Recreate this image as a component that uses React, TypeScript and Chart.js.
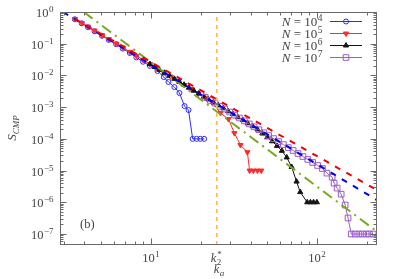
import React, { useEffect, useRef } from 'react';
import { Chart, registerables } from 'chart.js';

Chart.register(...registerables);

// ---------- axis ranges ----------
const X_MIN = 2.85;
const X_MAX = 230;
const Y_MIN = 4.5e-8;
const Y_MAX = 1;
const K_STAR = 25;

// ---------- data ----------
const n4K = [3.5, 3.85, 4.2, 4.6, 5.1, 5.6, 6.2, 6.8, 7.5, 8.2, 9.0, 9.9, 11.0, 12.0, 12.8, 13.9, 14.9, 16.0, 16.9, 17.9, 18.9, 19.9, 21.0];
const n4S = [0.59, 0.44, 0.33, 0.248, 0.178, 0.132, 0.096, 0.070, 0.051, 0.037, 0.027, 0.020, 0.0138, 0.0089, 0.0062, 0.0043, 0.0028, 0.00108, 0.00081, 1e-4, 1e-4, 1e-4, 1e-4];

const n5K = [3.5, 3.85, 4.2, 4.6, 5.1, 5.6, 6.2, 6.8, 7.5, 8.2, 9.0, 9.9, 10.9, 12.0, 13.2, 14.5, 16.0, 17.6, 19.4, 21.3, 23.4, 26.3, 29.4, 31.9, 34.7, 38.2, 39.4, 41.5, 43.9, 46.3];
const n5S = [0.60, 0.45, 0.345, 0.258, 0.186, 0.139, 0.101, 0.076, 0.0555, 0.0415, 0.031, 0.0229, 0.0169, 0.0124, 0.0092, 0.0068, 0.0050, 0.0037, 0.0027, 0.00198, 0.00145, 0.00065, 0.00042, 0.000152, 6.4e-5, 3.8e-5, 1e-5, 1e-5, 1e-5, 1e-5];

const n6K = [9.9, 10.6, 11.3, 12.1, 13.0, 13.9, 14.9, 15.9, 17.0, 18.2, 19.5, 20.9, 22.3, 23.9, 25.6, 27.4, 29.3, 31.3, 33.5, 35.9, 38.4, 41.1, 44.0, 47.0, 50.3, 53.8, 57.6, 61.6, 65.9, 70.5, 75.5, 79.4, 87.5, 91.5, 95.5, 100];
const n6S = [0.0228, 0.0184, 0.0150, 0.0121, 0.0097, 0.0078, 0.0063, 0.0051, 0.0041, 0.0033, 0.00268, 0.00215, 0.00175, 0.00141, 0.00114, 0.00092, 0.00074, 0.0006, 0.00048, 0.00039, 0.00031, 0.00025, 0.000198, 0.000148, 0.000112, 8.4e-5, 6.0e-5, 4.2e-5, 2.6e-5, 1.3e-5, 4.5e-6, 2.1e-6, 1e-6, 1e-6, 1e-6, 1e-6];

const n7K = [21.3, 22.8, 24.4, 26.1, 27.9, 29.9, 32.0, 34.2, 36.6, 39.2, 41.9, 44.8, 48.0, 51.3, 54.9, 58.8, 62.9, 67.3, 72.0, 77.0, 82.4, 88.2, 94.4, 101, 108, 115, 123.6, 127, 132.4, 140, 148, 154, 161, 170, 179, 188, 198, 207, 218];
const n7S = [0.00205, 0.00163, 0.00133, 0.00107, 0.00087, 0.0007, 0.00056, 0.000455, 0.000368, 0.000296, 0.00024, 0.000194, 0.000156, 0.000127, 0.000102, 8.2e-5, 6.6e-5, 5.3e-5, 4.3e-5, 3.45e-5, 2.78e-5, 2.24e-5, 1.8e-5, 1.45e-5, 1.16e-5, 8.3e-6, 6.2e-6, 4.0e-6, 2.8e-6, 1.8e-6, 8.2e-7, 3.2e-7, 1e-7, 1e-7, 1e-7, 1e-7, 1e-7, 1e-7, 1e-7];

// reference power-law lines (end points)
const redRefK = [3.5, 230];
const redRefS = [0.6, 2.43e-6];
const blueRefK = [2.97, 230];
const blueRefS = [1, 1.17e-6];
const greenRefK = [3.96, 224];
const greenRefS = [1, 1.33e-7];

// tick labels
const yTickExps = ['0', '−1', '−2', '−3', '−4', '−5', '−6', '−7'];
const yTickVals = [1, 1e-1, 1e-2, 1e-3, 1e-4, 1e-5, 1e-6, 1e-7];
const xTickExps = ['1', '2'];
const xTickVals = [10, 100];
const legendExps = ['4', '5', '6', '7'];

// ---------- styles ----------
const BLUE = '#2b2bff';
const RED = '#ff2a2a';
const BLACK = '#151515';
const PURPLE = '#9b5cc4';
const RED_DASH = '#ee0000';
const BLUE_DASH = '#0000ee';
const GREEN = '#77aa22';
const ORANGE = '#ffbb4d';
const TEXT = '#444444';
const FRAME = '#6a6a6a';
const SERIF = '"Liberation Serif", "DejaVu Serif", serif';

const pts = (ks: number[], ss: number[]) => ks.map((k, i) => ({ x: k, y: ss[i] }));

function drawMarker(ctx: CanvasRenderingContext2D, style: string, x: number, y: number, color: string) {
  ctx.save();
  ctx.lineWidth = 1;
  ctx.strokeStyle = color;
  ctx.fillStyle = color;
  ctx.beginPath();
  if (style === 'circle') {
    ctx.arc(x, y, 2.5, 0, Math.PI * 2);
    ctx.stroke();
  } else if (style === 'down') {
    ctx.moveTo(x - 2.6, y - 1.5);
    ctx.lineTo(x + 2.6, y - 1.5);
    ctx.lineTo(x, y + 3);
    ctx.closePath();
    ctx.fill();
    ctx.stroke();
  } else if (style === 'up') {
    ctx.moveTo(x - 2.6, y + 1.5);
    ctx.lineTo(x + 2.6, y + 1.5);
    ctx.lineTo(x, y - 3);
    ctx.closePath();
    ctx.fill();
    ctx.stroke();
  } else {
    ctx.rect(x - 2.8, y - 2.8, 5.6, 5.6);
    ctx.stroke();
  }
  ctx.restore();
}

const legendColors = [BLUE, RED, BLACK, PURPLE];
const legendStyles = ['circle', 'down', 'up', 'square'];

const decor = {
  id: 'decor',
  afterDraw(chart: any) {
    const ctx: CanvasRenderingContext2D = chart.ctx;
    const xs = chart.scales.x;
    const ys = chart.scales.y;
    const { left, right, top, bottom } = chart.chartArea;
    const L = Math.round(left) + 0.5;
    const R = Math.round(right) - 0.5;
    const T = Math.round(top) + 0.5;
    const B = Math.round(bottom) - 0.5;
    ctx.save();
    // frame
    ctx.strokeStyle = FRAME;
    ctx.lineWidth = 1;
    ctx.strokeRect(L, T, R - L, B - T);
    // ticks
    ctx.beginPath();
    const xTick = (v: number, len: number) => {
      const px = Math.round(xs.getPixelForValue(v)) + 0.5;
      ctx.moveTo(px, B); ctx.lineTo(px, B - len);
      ctx.moveTo(px, T); ctx.lineTo(px, T + len);
    };
    const yTick = (v: number, len: number) => {
      const py = Math.round(ys.getPixelForValue(v)) + 0.5;
      ctx.moveTo(L, py); ctx.lineTo(L + len, py);
      ctx.moveTo(R, py); ctx.lineTo(R - len, py);
    };
    for (let d = 1; d <= 100; d *= 10) {
      for (let m = 1; m <= 9; m++) {
        const v = m * d;
        if (v < X_MIN || v > X_MAX) continue;
        xTick(v, m === 1 ? 6 : 3);
      }
    }
    for (let e = -8; e <= 0; e++) {
      for (let m = 1; m <= 9; m++) {
        const v = m * Math.pow(10, e);
        if (v < Y_MIN || v > Y_MAX * 1.0001) continue;
        yTick(v, m === 1 ? 6 : 3);
      }
    }
    ctx.stroke();

    ctx.fillStyle = TEXT;
    ctx.textAlign = 'left';
    ctx.textBaseline = 'alphabetic';
    const big = `12.5px ${SERIF}`;
    const small = `9px ${SERIF}`;
    const drawPow = (exp: string, x: number, y: number, align: string) => {
      ctx.font = big;
      const bw = ctx.measureText('10').width;
      ctx.font = small;
      const ew = ctx.measureText(exp).width;
      const total = bw + ew;
      const lx = align === 'right' ? x - total : x - total / 2;
      ctx.font = big;
      ctx.fillText('10', lx, y);
      ctx.font = small;
      ctx.fillText(exp, lx + bw + 0.5, y - 5);
    };
    // y tick labels
    yTickVals.forEach((v, i) => {
      const py = ys.getPixelForValue(v);
      drawPow(yTickExps[i], 53, py + 5, 'right');
    });
    // x tick labels
    xTickVals.forEach((v, i) => {
      const px = xs.getPixelForValue(v);
      drawPow(xTickExps[i], px, 262, 'center');
    });
    // k2* label at the orange line
    const kx = xs.getPixelForValue(K_STAR);
    ctx.font = `italic ${big}`;
    ctx.fillText('k', kx - 6, 262);
    ctx.font = small;
    ctx.fillText('2', kx, 265);
    ctx.fillText('*', kx + 0.5, 257);
    // x axis title k_a
    ctx.font = `italic ${big}`;
    ctx.fillText('k', kx - 3, 273);
    ctx.font = `italic ${small}`;
    ctx.fillText('a', kx + 3, 276);
    // (b)
    ctx.font = big;
    ctx.fillText('(b)', 80, 228);
    // y axis title S_CMP
    ctx.save();
    ctx.translate(16, 128);
    ctx.rotate(-Math.PI / 2);
    ctx.font = `italic 13px ${SERIF}`;
    const sw = ctx.measureText('S').width;
    ctx.font = `italic 9px ${SERIF}`;
    const cw = ctx.measureText('CMP').width;
    const tw = sw + cw;
    ctx.font = `italic 13px ${SERIF}`;
    ctx.fillText('S', -tw / 2, 0);
    ctx.font = `italic 9px ${SERIF}`;
    ctx.fillText('CMP', -tw / 2 + sw, 3);
    ctx.restore();

    // legend
    const rowsY = [21, 33, 45, 57];
    legendExps.forEach((e, i) => {
      const y = rowsY[i];
      // text "N = 10^e" right aligned at 322
      ctx.font = `italic 13px ${SERIF}`;
      const nw = ctx.measureText('N').width;
      ctx.font = `13px ${SERIF}`;
      const eqw = ctx.measureText(' = 10').width;
      ctx.font = `9.5px ${SERIF}`;
      const ew = ctx.measureText(e).width;
      const x0 = 322 - (nw + eqw + ew);
      ctx.fillStyle = TEXT;
      ctx.font = `italic 13px ${SERIF}`;
      ctx.fillText('N', x0, y + 4.5);
      ctx.font = `13px ${SERIF}`;
      ctx.fillText(' = 10', x0 + nw, y + 4.5);
      ctx.font = `9.5px ${SERIF}`;
      ctx.fillText(e, x0 + nw + eqw + 0.5, y - 0.5);
      // sample
      ctx.strokeStyle = legendColors[i];
      ctx.lineWidth = 1;
      ctx.beginPath();
      ctx.moveTo(330, y + 0.5);
      ctx.lineTo(362, y + 0.5);
      ctx.stroke();
      drawMarker(ctx, legendStyles[i], 346, y + 0.5, legendColors[i]);
    });
    ctx.restore();
  },
};

export default function App() {
  const ref = useRef<HTMLCanvasElement>(null);
  useEffect(() => {
    const canvas = ref.current;
    if (!canvas) return;
    const refLine = (ks: number[], ss: number[], color: string, dash: number[], width: number) => ({
      data: pts(ks, ss),
      showLine: true,
      borderColor: color,
      backgroundColor: color,
      borderWidth: width,
      borderDash: dash,
      pointRadius: 0,
      order: 0,
    });
    const chart = new Chart(canvas, {
      type: 'scatter',
      data: {
        datasets: [
          refLine([K_STAR, K_STAR], [Y_MIN, Y_MAX], ORANGE, [4, 4], 1.6),
          refLine(redRefK, redRefS, RED_DASH, [6, 7], 2),
          refLine(blueRefK, blueRefS, BLUE_DASH, [6, 7], 2),
          refLine(greenRefK, greenRefS, GREEN, [11, 5, 2, 5], 2),
          {
            data: pts(n7K, n7S), showLine: true, borderColor: PURPLE, borderWidth: 1,
            pointStyle: 'rect', pointRadius: 4, pointBorderWidth: 1, pointBorderColor: PURPLE,
            pointBackgroundColor: 'rgba(255,255,255,0)', order: 1,
          },
          {
            data: pts(n6K, n6S), showLine: true, borderColor: BLACK, borderWidth: 1,
            pointStyle: 'triangle', pointRadius: 3, pointBorderWidth: 1, pointBorderColor: BLACK,
            pointBackgroundColor: BLACK, order: 2,
          },
          {
            data: pts(n5K, n5S), showLine: true, borderColor: RED, borderWidth: 1,
            pointStyle: 'triangle', pointRotation: 180, pointRadius: 3, pointBorderWidth: 1,
            pointBorderColor: RED, pointBackgroundColor: RED, order: 3,
          },
          {
            data: pts(n4K, n4S), showLine: true, borderColor: BLUE, borderWidth: 1,
            pointStyle: 'circle', pointRadius: 2.5, pointBorderWidth: 1, pointBorderColor: BLUE,
            pointBackgroundColor: 'rgba(255,255,255,0)', order: 4,
          },
        ] as any,
      },
      options: {
        responsive: false,
        animation: false,
        layout: { padding: { left: 0, right: 22, top: 12, bottom: 0 } },
        plugins: { legend: { display: false }, tooltip: { enabled: false } },
        elements: { line: { tension: 0 } },
        scales: {
          x: {
            type: 'logarithmic', min: X_MIN, max: X_MAX,
            grid: { display: false }, border: { display: false },
            ticks: { display: false },
            afterFit: (s: any) => { s.height = 34; },
          },
          y: {
            type: 'logarithmic', min: Y_MIN, max: Y_MAX,
            grid: { display: false }, border: { display: false },
            ticks: { display: false },
            afterFit: (s: any) => { s.width = 60; },
          },
        },
      } as any,
      plugins: [decor],
    });
    return () => chart.destroy();
  }, []);
  return (
    <canvas
      ref={ref}
      width={399}
      height={279}
      style={{ position: 'fixed', left: 0, top: 0, width: 399, height: 279, display: 'block', background: '#fff' }}
    />
  );
}
